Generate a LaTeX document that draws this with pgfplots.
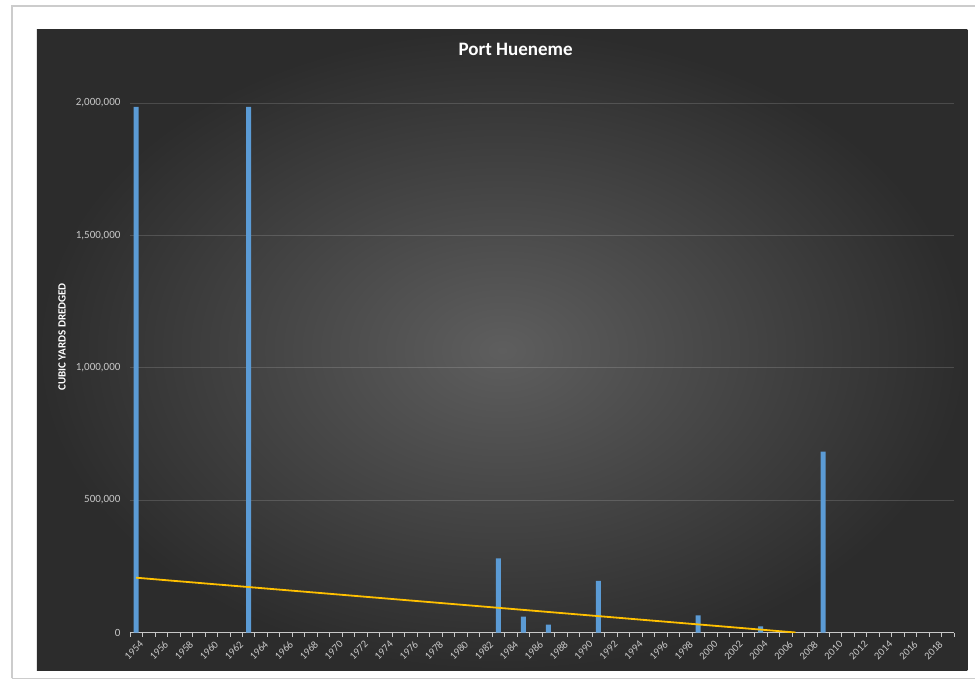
\documentclass[border=0pt]{standalone}
\usepackage{pgfplots}
\pgfplotsset{compat=1.18}
\usepackage{fontspec}
\setmainfont{Carlito}
\definecolor{barblue}{RGB}{91,155,213}
\definecolor{trendgold}{RGB}{255,192,0}
\definecolor{ticktext}{RGB}{200,200,200}
\definecolor{bginner}{RGB}{94,94,94}
\definecolor{bgouter}{RGB}{44,44,44}
\begin{document}
\begin{tikzpicture}[x=1pt,y=1pt]
% card behind the chart
\fill[white] (0,0) rectangle (976,694);
\draw[black!20, line width=1.2pt] (12,15) -- (12,688) -- (976,688);
\draw[black!20, line width=1.5pt] (12,15) -- (976,15);
% chart area
\shade[inner color=bginner, outer color=bgouter] (37,23) rectangle (968,664);
\node[white, font=\bfseries\fontsize{19}{22}\selectfont] at (516,645) {Port Hueneme};
\node[white, rotate=90, font=\bfseries\fontsize{11}{13}\selectfont] at (62,357) {CUBIC YARDS DREDGED};
\begin{axis}[
  at={(130pt,61pt)}, anchor=south west,
  scale only axis, width=825pt, height=530pt,
  xmin=1953.5, xmax=2019.5, ymin=0, ymax=2000000,
  axis x line*=bottom, axis y line*=left,
  y axis line style={draw=none},
  x axis line style={ticktext, line width=0.8pt, -},
  xtick={1954,1956,...,2018},
  minor xtick={1953.5,1954.5,...,2019.5},
  major tick length=0pt, minor tick length=4pt, tick align=outside,
  minor tick style={ticktext, line width=0.6pt},
  ytick={0,500000,1000000,1500000,2000000},
  ymajorgrids, major grid style={white, opacity=0.15, line width=0.6pt},
  scaled y ticks=false,
  tick label style={ticktext, /pgf/number format/assume math mode=true},
  x tick label style={font=\fontsize{10.5}{12}\selectfont, rotate=45, anchor=north east, yshift=-4pt, /pgf/number format/1000 sep={}},
  y tick label style={font=\fontsize{11}{13}\selectfont, xshift=-6pt, /pgf/number format/fixed, /pgf/number format/1000 sep={,}},
  clip=true,
]
% annual dredged volumes
\addplot[ybar, bar width=5pt, bar shift=0pt, fill=barblue, draw=none] coordinates {
  (1954,1985000) (1963,1985000) (1983,280000) (1985,60000) (1987,30000)
  (1991,195000) (1999,65000) (2004,23000) (2009,683000)
};
% linear trend
\addplot[trendgold, line width=1.8pt] coordinates {(1954,207000) (2006.8,0)};
\end{axis}
\end{tikzpicture}
\end{document}
